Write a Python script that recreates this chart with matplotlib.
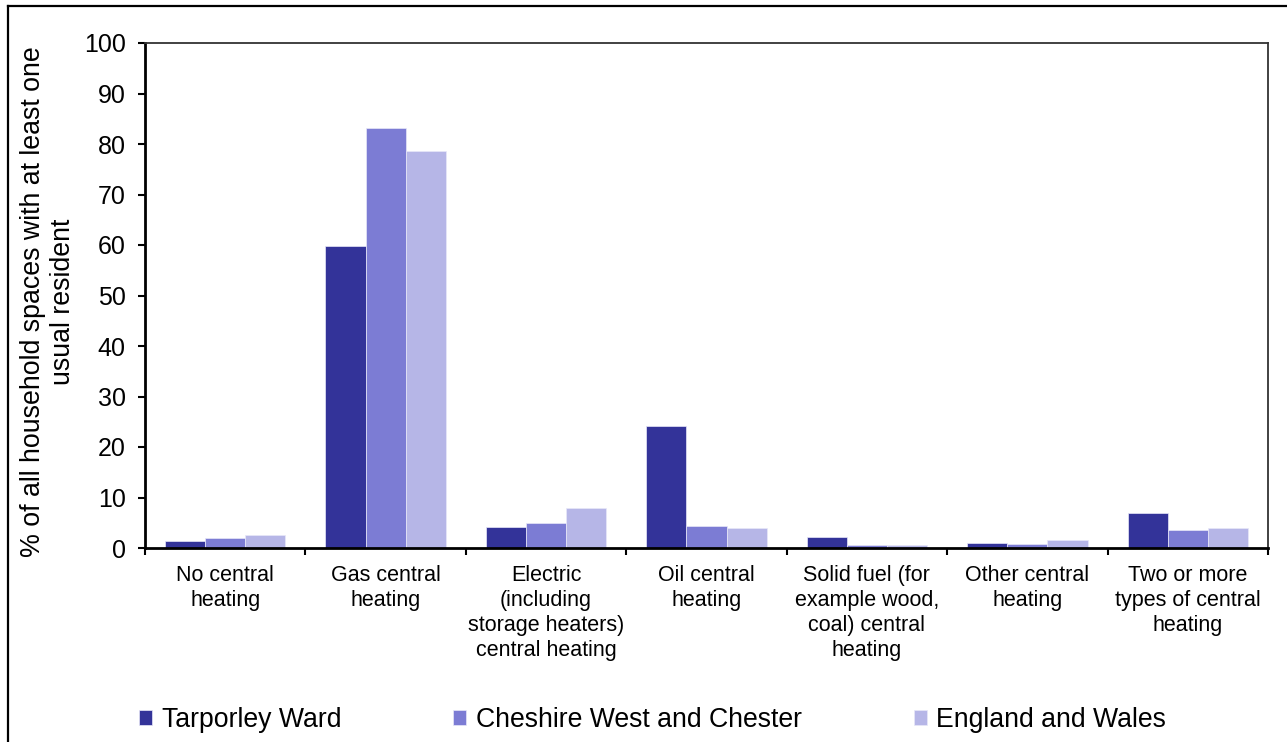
import matplotlib.pyplot as plt
import numpy as np
from matplotlib.lines import Line2D

plt.rcParams['font.family'] = ['Liberation Sans', 'DejaVu Sans']

# data
categories = [
    "No central\nheating",
    "Gas central\nheating",
    "Electric\n(including\nstorage heaters)\ncentral heating",
    "Oil central\nheating",
    "Solid fuel (for\nexample wood,\ncoal) central\nheating",
    "Other central\nheating",
    "Two or more\ntypes of central\nheating",
]
tarporley = [1.3, 59.9, 4.2, 24.1, 2.1, 1.0, 6.9]
cheshire = [2.0, 83.2, 4.9, 4.3, 0.5, 0.7, 3.6]
england = [2.6, 78.6, 7.9, 4.0, 0.6, 1.5, 4.0]

series_names = ["Tarporley Ward", "Cheshire West and Chester", "England and Wales"]
colours = ["#333399", "#7C7CD4", "#B6B6E7"]

W, H = 1287, 742
fig = plt.figure(figsize=(W / 100, H / 100), dpi=100)
ax = fig.add_axes([145 / W, 1 - 548 / H, (1268 - 145) / W, (548 - 43) / H])

x = np.arange(len(categories))
bw = 0.25
bars = []
for i, (vals, col) in enumerate(zip([tarporley, cheshire, england], colours)):
    b = ax.bar(x + (i - 1) * bw, vals, width=bw, color=col,
               edgecolor="#e8e8f8", linewidth=0.5, label=series_names[i])
    bars.append(b)

ax.set_xlim(-0.5, len(categories) - 0.5)
ax.set_ylim(0, 100)
ax.set_yticks(np.arange(0, 101, 10))
ax.tick_params(axis="y", direction="out", length=5, width=1.5, pad=9, labelsize=18)

ax.set_xticks(x)
ax.set_xticklabels(categories, fontsize=15.5, linespacing=1.25, va="top")
ax.tick_params(axis="x", which="major", length=0, pad=12)
ax.set_xticks(np.arange(-0.5, len(categories)), minor=True)
ax.tick_params(axis="x", which="minor", direction="out", length=5, width=1.5)

for s in ["left", "bottom"]:
    ax.spines[s].set_linewidth(2)
    ax.spines[s].set_color("black")
for s in ["top", "right"]:
    ax.spines[s].set_linewidth(1.3)
    ax.spines[s].set_color("#333333")

fig.text(48 / W, 1 - 302 / H,
         "% of all household spaces with at least one\nusual resident",
         rotation=90, ha="center", va="center", fontsize=19.3,
         linespacing=1.2, multialignment="center")

fig.legend(handles=bars, labels=series_names, loc="center left",
           bbox_to_anchor=(139 / W, 1 - 720 / H), ncol=3, frameon=False,
           fontsize=19.2, handlelength=0.5, handleheight=0.5,
           handletextpad=0.35, columnspacing=4.2, borderpad=0,
           borderaxespad=0)

# outer chart frame
fig.add_artist(Line2D([8 / W, 1], [1 - 6 / H, 1 - 6 / H], color="black",
                      linewidth=1.6, transform=fig.transFigure))
fig.add_artist(Line2D([8 / W, 8 / W], [0, 1 - 6 / H], color="black",
                      linewidth=1.6, transform=fig.transFigure))

fig.savefig("out.png", dpi=100)
